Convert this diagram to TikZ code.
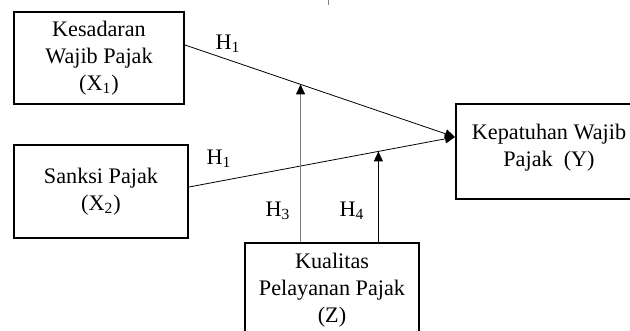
\documentclass[tikz,border=0pt]{standalone}
\usepackage{fontspec}
\setmainfont{Liberation Serif}
\usetikzlibrary{arrows.meta}
\begin{document}
\begin{tikzpicture}[x=0.5pt,y=-0.5pt,
    var/.style={draw, line width=1pt, align=center, inner sep=0pt,
        font=\fontsize{11.1}{13.5}\selectfont},
    link/.style={-{Triangle[length=5pt,width=4.5pt]}, line width=0.4pt},
    hyp/.style={font=\fontsize{11.1}{13}\selectfont}]
    \useasboundingbox (0,0) rectangle (630,331);
    % Independent variables
    \node[var, minimum width=85pt, minimum height=46pt] (x1) at (99,58) {Kesadaran\\Wajib Pajak\\(X\textsubscript{1})};
    \node[var, minimum width=87pt, minimum height=46.5pt] (x2) at (101,191.5) {Sanksi Pajak\\(X\textsubscript{2})};
    % Dependent variable
    \node[var, minimum width=93pt, minimum height=47.5pt, text depth=6pt] (y) at (549,151.5) {Kepatuhan Wajib\\Pajak\ \ (Y)};
    % Moderating variable
    \node[var, minimum width=87pt, minimum height=47pt] (z) at (332,290) {Kualitas\\Pelayanan Pajak\\(Z)};

    \draw[link] ([yshift=6.5pt]x1.east) -- coordinate[pos=0.428] (m1) ([yshift=7.25pt]y.west);
    \draw[link] ([yshift=2.25pt]x2.east) -- coordinate[pos=0.712] (m2) ([yshift=7.25pt]y.west);

    % Moderation
    \draw[link, gray, -{Triangle[length=5pt,width=4.5pt,color=black]}] (z.north -| m1) -- (m1);
    \draw[link] (z.north -| m2) -- (m2);

    % Hypotheses
    \node[hyp] (h1a) at (228,44) {H\textsubscript{1}};
    \node[hyp] (h1b) at (219,159) {H\textsubscript{1}};
    \node[hyp] (h3) at (278,211) {H\textsubscript{3}};
    \node[hyp] (h4) at (352,211) {H\textsubscript{4}};

    \draw[gray, line width=0.5pt] (328,0) -- (328,5);
\end{tikzpicture}
\end{document}
